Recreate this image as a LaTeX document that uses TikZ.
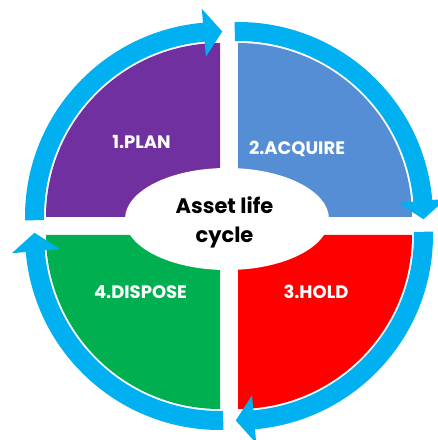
\documentclass[tikz,border=0pt]{standalone}
\usepackage{fontspec}
\setmainfont{Poppins}
\usetikzlibrary{calc}
\definecolor{planpurple}{HTML}{7030A0}
\definecolor{acqblue}{HTML}{558ED5}
\definecolor{holdred}{HTML}{FF0000}
\definecolor{dispgreen}{HTML}{00B050}
\definecolor{ringblue}{HTML}{00B0F0}

% curved band arrow around a quarter: #1 centre, #2 tail angle,
% #3 angle of the head's base, #4 angle of the tip
\newcommand\ringarrow[4]{%
  \fill[ringarrowfill] ($(#1)+(#2:195)$) arc[start angle=#2,end angle=#3,radius=195]
    -- ($(#1)+(#3:209)$) -- ($(#1)+(#4:185.5)$) -- ($(#1)+(#3:161)$)
    -- ($(#1)+(#3:176)$) arc[start angle=#3,end angle=#2,radius=176] -- cycle;}

\begin{document}
\begin{tikzpicture}[x=1pt,y=1pt,
  ringarrowfill/.style={fill=ringblue},
  stagelabel/.style={text=white,font=\fontsize{18}{20}\selectfont\bfseries,anchor=base,inner sep=0pt},
  hublabel/.style={text=black,font=\fontsize{21}{24}\selectfont\bfseries,anchor=base,inner sep=0pt}]
\clip (0,0) rectangle (438,440);

% corners of the four quarters
\coordinate (P) at (220,223);
\coordinate (B) at (238,223);
\coordinate (R) at (238,205);
\coordinate (G) at (220,205);
\coordinate (hub) at (227,221);

% quarters
\fill[planpurple] (P) -- ++(180:174) arc[start angle=180,end angle=90,radius=174] -- cycle;
\fill[acqblue] (B) -- ++(90:174) arc[start angle=90,end angle=0,radius=174] -- cycle;
\fill[holdred] (R) -- ++(0:174) arc[start angle=0,end angle=-90,radius=174] -- cycle;
\fill[dispgreen] (G) -- ++(-90:174) arc[start angle=-90,end angle=-180,radius=174] -- cycle;

% clockwise arrows round the outside
\ringarrow{P}{181}{95}{89.3}
\ringarrow{B}{91}{5}{-0.7}
\ringarrow{R}{1}{-85}{-90.7}
\ringarrow{G}{-89}{-175}{-180.7}

% centre hub
\fill[white] (hub) ellipse[x radius=102,y radius=51];

% labels
\node[stagelabel] (plan) at (141.5,291) {1.PLAN};
\node[stagelabel] (acquire) at (297,285.7) {2.ACQUIRE};
\node[stagelabel] (hold) at (316,141) {3.HOLD};
\node[stagelabel] (dispose) at (140.5,141) {4.DISPOSE};
\node[hublabel] (hubtop) at (224.5,226) {Asset life};
\node[hublabel] (hubbottom) at (224.5,197) {cycle};
\end{tikzpicture}
\end{document}
